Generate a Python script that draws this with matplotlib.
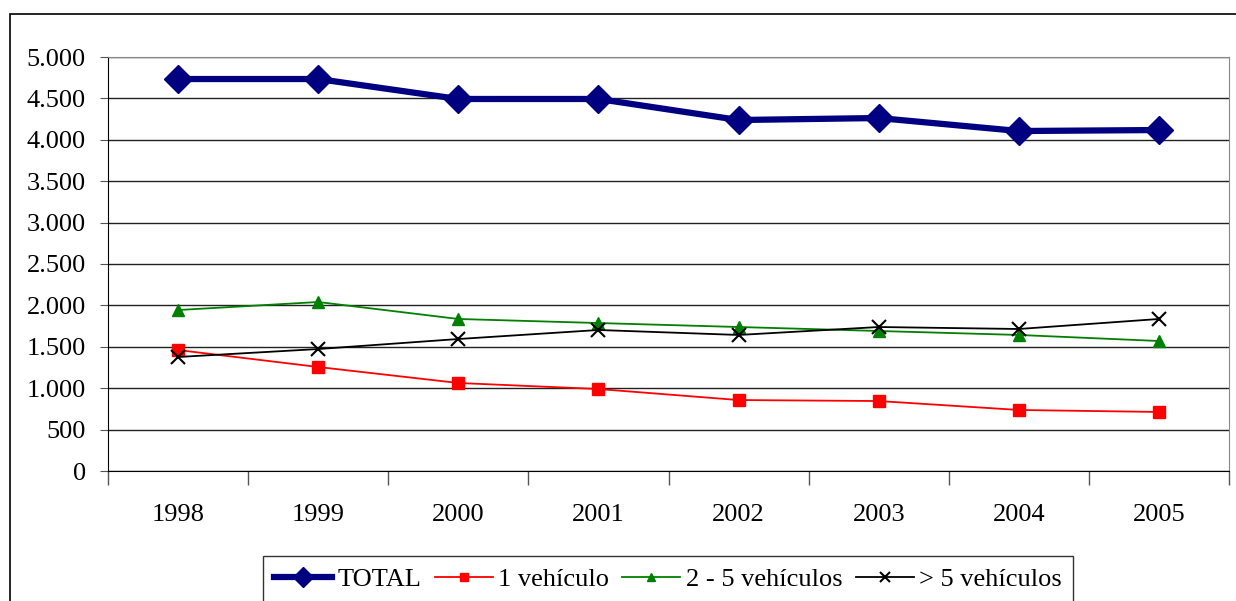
import numpy as np
import matplotlib.pyplot as plt
from matplotlib.ticker import FuncFormatter
from matplotlib.patches import Rectangle

years = ['1998', '1999', '2000', '2001', '2002', '2003', '2004', '2005']
total = [4734, 4734, 4493, 4493, 4239, 4263, 4106, 4118]
uno = [1461, 1256, 1063, 990, 857, 845, 737, 713]
dos_cinco = [1944, 2041, 1836, 1787, 1739, 1691, 1643, 1570]
mas_cinco = [1377, 1473, 1594, 1703, 1643, 1739, 1715, 1836]

plt.rcParams['font.family'] = ['Liberation Serif', 'DejaVu Serif']

fig = plt.figure(figsize=[12.36, 6.01], dpi=100)
ax = fig.add_axes([108/1236, 1-471/601, (1229-108)/1236, (471-57)/601])

# outer chart border
fig.patches.append(Rectangle((10/1236, -0.1), 1.1, 1-14/601+0.1, transform=fig.transFigure,
                             fill=False, edgecolor='black', lw=1.2))

x = np.arange(len(years))
ax.plot(x, total, color='#000080', lw=4.5, marker='D', ms=14, label='TOTAL')
ax.plot(x, uno, color='#ff0000', lw=1.3, marker='s', ms=8, label='1 vehículo')
ax.plot(x, dos_cinco, color='#008000', lw=1.3, marker='^', ms=9, label='2 - 5 vehículos')
ax.plot(x, mas_cinco, color='black', lw=1.3, marker='x', ms=10, mew=1.5, label='> 5 vehículos')

ax.set_xlim(-0.5, 7.5)
ax.set_ylim(0, 5000)
ax.set_yticks(np.arange(0, 5001, 500))
ax.yaxis.set_major_formatter(FuncFormatter(lambda v, p: f'{int(v):,}'.replace(',', '.')))
ax.set_xticks(x)
ax.set_xticklabels(years)
ax.set_xticks(np.arange(-0.5, 8, 1), minor=True)
ax.tick_params(axis='x', which='major', length=0, pad=24, labelsize=19)
ax.tick_params(axis='x', which='minor', length=10, width=1, color='#555555')
ax.tick_params(axis='y', length=6, pad=10, labelsize=19, color='#555555')
ax.grid(axis='y', color='#222222', lw=1)
ax.set_axisbelow(True)
for s in ['top', 'right']:
    ax.spines[s].set_color('#888888')
ax.spines['left'].set_color('black')
ax.spines['bottom'].set_color('black')

leg = fig.legend(loc='upper center', bbox_to_anchor=(668/1236, 1-556/601), ncol=4,
                 fontsize=19, frameon=True, fancybox=False, edgecolor='black',
                 handlelength=2.2, handletextpad=0.2, columnspacing=0.5,
                 markerscale=0.7, borderpad=0.45, borderaxespad=0)
leg.get_frame().set_linewidth(1.0)

plt.savefig('out.png', dpi=100)
